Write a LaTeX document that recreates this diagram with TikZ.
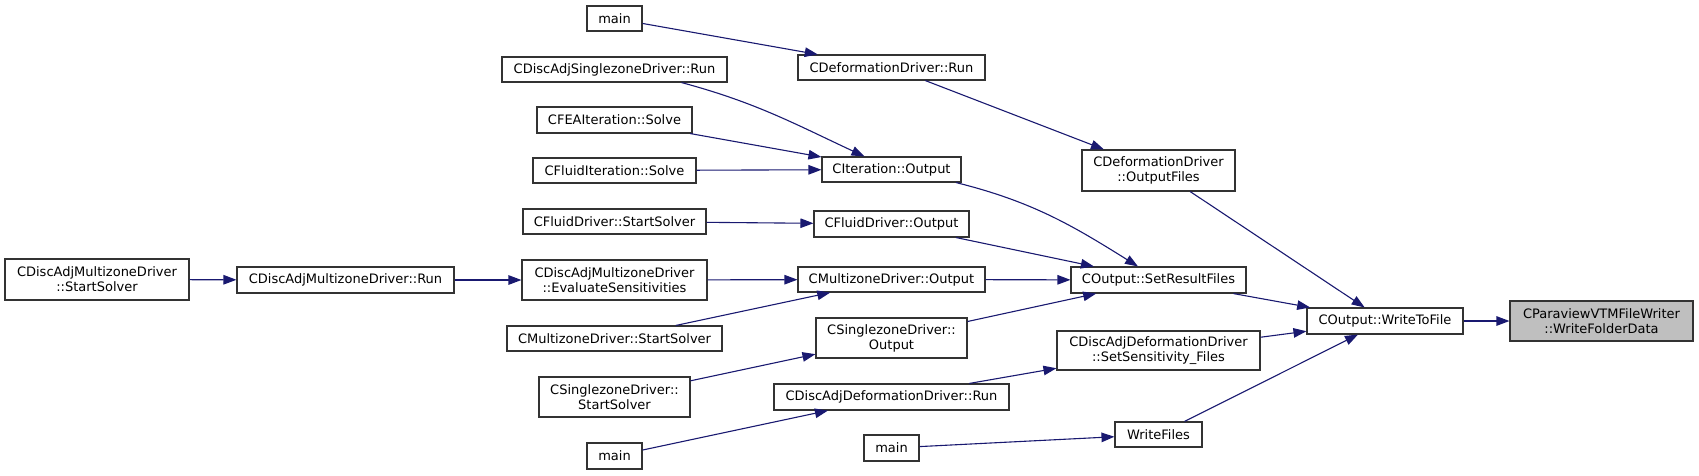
\documentclass[tikz,border=0pt]{standalone}
\usepackage{fontspec}
\setmainfont{DejaVu Sans}
\usetikzlibrary{arrows.meta}
\definecolor{edgeCol}{RGB}{25,25,112}
\definecolor{rimCol}{RGB}{51,51,51}
\definecolor{curCol}{RGB}{191,191,191}
\tikzset{
  fn/.style={draw=rimCol, line width=1.1pt, fill=white, align=center,
             inner sep=0pt, font=\fontsize{13}{15}\selectfont},
  cur/.style={fn, fill=curCol},
  call/.style={-{Triangle[length=13pt, width=9.5pt]}, edgeCol, line width=1.1pt},
}

\begin{document}
\begin{tikzpicture}[x=1pt, y=-1pt]
  \useasboundingbox (0,0) rectangle (1699,475);
  % far left
  \node[fn, minimum width=184, minimum height=41] (dmStart) at (97,279.5)   {CDiscAdjMultizoneDriver\\::StartSolver};
  \node[fn, minimum width=217, minimum height=26] (dmRun)   at (345.5,280)  {CDiscAdjMultizoneDriver::Run};
  % callers column
  \node[fn, minimum width=55,  minimum height=25] (mainA)   at (614.5,18.5) {main};
  \node[fn, minimum width=225, minimum height=25] (dsRun)   at (614.5,69.5) {CDiscAdjSinglezoneDriver::Run};
  \node[fn, minimum width=155, minimum height=26] (feaSolve) at (614.5,120) {CFEAIteration::Solve};
  \node[fn, minimum width=163, minimum height=25] (flSolve) at (614.5,170.5) {CFluidIteration::Solve};
  \node[fn, minimum width=183, minimum height=25] (fdStart) at (614.5,221.5) {CFluidDriver::StartSolver};
  \node[fn, minimum width=185, minimum height=40] (dmEval)  at (614.5,280)  {CDiscAdjMultizoneDriver\\::EvaluateSensitivities};
  \node[fn, minimum width=215, minimum height=25] (mzStart) at (614.5,338.5) {CMultizoneDriver::StartSolver};
  \node[fn, minimum width=151, minimum height=40] (szStart) at (614.5,397)  {CSinglezoneDriver::\\StartSolver};
  \node[fn, minimum width=55,  minimum height=26] (mainB)   at (614.5,456)  {main};
  % drivers column
  \node[fn, minimum width=187, minimum height=25] (defRun)  at (891.5,67.5) {CDeformationDriver::Run};
  \node[fn, minimum width=139, minimum height=25] (itOut)   at (891.5,169.5) {CIteration::Output};
  \node[fn, minimum width=155, minimum height=26] (fdOut)   at (891.5,224)  {CFluidDriver::Output};
  \node[fn, minimum width=187, minimum height=25] (mzOut)   at (891.5,279.5) {CMultizoneDriver::Output};
  \node[fn, minimum width=151, minimum height=40] (szOut)   at (891.5,338)  {CSinglezoneDriver::\\Output};
  \node[fn, minimum width=235, minimum height=26] (daRun)   at (891.5,397)  {CDiscAdjDeformationDriver::Run};
  \node[fn, minimum width=55,  minimum height=26] (mainC)   at (891.5,448)  {main};
  % output column
  \node[fn, minimum width=153, minimum height=41] (defOut)  at (1158.5,170.5) {CDeformationDriver\\::OutputFiles};
  \node[fn, minimum width=175, minimum height=26] (setRes)  at (1158.5,280) {COutput::SetResultFiles};
  \node[fn, minimum width=203, minimum height=39] (setSens) at (1158.5,350.5) {CDiscAdjDeformationDriver\\::SetSensitivity\_Files};
  \node[fn, minimum width=87,  minimum height=25] (wFiles)  at (1158.5,434.5) {WriteFiles};
  % writer
  \node[fn, minimum width=156, minimum height=26] (wToFile) at (1385,321)   {COutput::WriteToFile};
  \node[cur, minimum width=183, minimum height=40] (vtm)    at (1601.5,321) {CParaviewVTMFileWriter\\::WriteFolderData};

  % deformation branch
  \draw[call] (mainA) -- (defRun);
  \draw[call] (defRun) -- (defOut);
  \draw[call] (defOut) -- (wToFile);
  % iteration outputs
  \draw[call] ([xshift=67]dsRun.south) to[out=-15, in=155] ([xshift=-27]itOut.north);
  \draw[call] (feaSolve) -- (itOut);
  \draw[call] (flSolve) -- (itOut);
  \draw[call] ([xshift=64.5]itOut.south) to[out=-14, in=148] ([xshift=-20.5]setRes.north);
  % driver outputs
  \draw[call] (fdStart) -- (fdOut);
  \draw[call] (fdOut) -- (setRes);
  \draw[call] (dmStart) -- (dmRun);
  \draw[call] (dmRun) -- (dmEval);
  \draw[call] (dmEval) -- (mzOut);
  \draw[call] (mzStart) -- (mzOut);
  \draw[call] (mzOut) -- (setRes);
  \draw[call] (szStart) -- (szOut);
  \draw[call] (szOut) -- (setRes);
  % sensitivities and files
  \draw[call] (mainB) -- (daRun);
  \draw[call] (daRun) -- (setSens);
  \draw[call] (setSens) -- (wToFile);
  \draw[call] (mainC) -- (wFiles);
  \draw[call] (wFiles) -- (wToFile);
  \draw[call] (setRes) -- (wToFile);
  \draw[call] (wToFile) -- (vtm);
\end{tikzpicture}
\end{document}
